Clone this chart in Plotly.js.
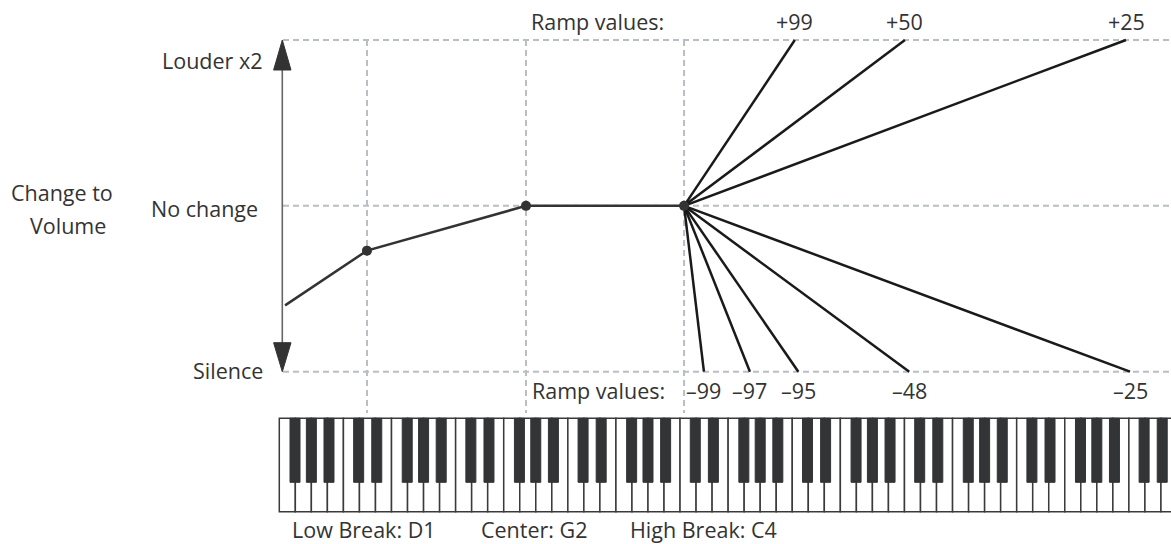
<!DOCTYPE html>
<html><head><meta charset="utf-8">
<script src="https://cdn.plot.ly/plotly-3.0.1.min.js"></script>
<style>html,body{margin:0;padding:0;background:#fff;}#chart{width:1171px;height:544px;}</style>
</head><body><div id="chart"></div>
<script>
// ---------- data (x in white-key units from the keyboard's left edge, y: 0 = silence, 1 = no change, 2 = louder x2)
const levelLabels = ['Silence', 'No change', 'Louder x2'];
const levelValues = [0, 1, 2];
const breakLabels = ['Low Break: D1', 'Center: G2', 'High Break: C4'];
const breakKeys = [5.47, 15.39, 25.25];
const breakLevels = [0.73, 1, 1];
const curveStartKey = [0.36];
const curveStartLevel = [0.40];
const rampUpValues = ['+99', '+50', '+25'];
const rampUpEndKeys = [32.16, 39.03, 52.82];
const rampDownValues = ['\u201399', '\u201397', '\u201395', '\u201348', '\u201325'];
const rampDownEndKeys = [26.49, 29.36, 32.38, 39.30, 53.07];
const whiteNotes = ['F', 'G', 'A', 'B', 'C', 'D', 'E'];
const blackAfter = {F: -0.02, G: 0.0, A: 0.1, C: -0.05, D: 0.08};
const whiteKeyCount = 57;

// ---------- layout geometry
const W = 1171, H = 544;
const keyLeftPx = 279.3, keyWPx = 16.03;
const yZeroPx = 371.7, yUnitPx = 165.85;
const X = px => (px - keyLeftPx) / keyWPx;
const Y = px => (yZeroPx - px) / yUnitPx;
const PX = px => px / W, PY = py => 1 - py / H;

const txtFont = {family: 'Open Sans, sans-serif', size: 21.5, color: '#333333'};
const gridLine = {color: '#b9bdc4', width: 2, dash: '6px,4px'};

const shapes = [];
// horizontal guides
levelValues.forEach(v => shapes.push({type: 'line', layer: 'below', xref: 'x', yref: 'y',
  x0: X(283), x1: X(W + 5), y0: v, y1: v, line: gridLine}));
// vertical guides
breakKeys.forEach(k => shapes.push({type: 'line', layer: 'below', xref: 'x', yref: 'y',
  x0: k, x1: k, y0: 2, y1: Y(413), line: gridLine}));
// volume arrow
const ax = X(282.3), ahw = 8.7 / keyWPx;
shapes.push({type: 'line', xref: 'x', yref: 'y', x0: ax, x1: ax, y0: Y(60), y1: Y(355),
  line: {color: '#666666', width: 1.6}});
shapes.push({type: 'path', xref: 'x', yref: 'y', fillcolor: '#333333', line: {color: '#333333', width: 1},
  path: `M ${ax} ${Y(40)} L ${ax - ahw} ${Y(70)} L ${ax + ahw} ${Y(70)} Z`});
shapes.push({type: 'path', xref: 'x', yref: 'y', fillcolor: '#333333', line: {color: '#333333', width: 1},
  path: `M ${ax} ${Y(371.7)} L ${ax - ahw} ${Y(342.7)} L ${ax + ahw} ${Y(342.7)} Z`});
// keyboard
const kbTop = Y(418.3), kbBot = Y(511.7), blackBot = Y(482.3), blackW = 10 / keyWPx;
for (let k = 0; k < whiteKeyCount; k++) {
  shapes.push({type: 'rect', xref: 'x', yref: 'y', x0: k, x1: k + 1, y0: kbBot, y1: kbTop,
    fillcolor: '#ffffff', line: {color: '#3a3a3a', width: 1.5}});
}
for (let k = 0; k < whiteKeyCount; k++) {
  const n = whiteNotes[k % 7];
  if (n in blackAfter) {
    const c = k + 1 + blackAfter[n];
    shapes.push({type: 'rect', xref: 'x', yref: 'y', x0: c - blackW / 2, x1: c + blackW / 2,
      y0: blackBot, y1: kbTop, fillcolor: '#333436', line: {color: '#333436', width: 1}});
  }
}

// ---------- traces
const hubK = breakKeys[2], hubL = breakLevels[2];
const rx = [], ry = [];
rampUpEndKeys.forEach(e => { rx.push(hubK, e, null); ry.push(hubL, 2, null); });
rampDownEndKeys.forEach(e => { rx.push(hubK, e, null); ry.push(hubL, 0, null); });
const traces = [
  {x: rx, y: ry, mode: 'lines', line: {color: '#1a1a1a', width: 2.5}, hoverinfo: 'skip'},
  {x: curveStartKey.concat(breakKeys), y: curveStartLevel.concat(breakLevels), mode: 'lines',
    line: {color: '#333333', width: 2.5}, hoverinfo: 'skip'},
  {x: breakKeys, y: breakLevels, mode: 'markers', marker: {color: '#333333', size: 10}, hoverinfo: 'skip'}
];

// ---------- annotations
const ann = [];
const A = (text, xpx, ypx, xanchor) => ann.push({text, xref: 'paper', yref: 'paper', x: PX(xpx), y: PY(ypx),
  xanchor: xanchor || 'center', yanchor: 'middle', showarrow: false, font: txtFont});
A('Change to', 61.5, 193);
A('Volume', 68, 225);
const levelY = [370, 208, 60.5], levelRight = [265, 260, 265];
levelLabels.forEach((t, i) => A(t, levelRight[i], levelY[i], 'right'));
A('Ramp values:', 665.5, 21.5, 'right');
A('Ramp values:', 667, 390, 'right');
rampUpValues.forEach((t, i) => ann.push({text: t, xref: 'x', yref: 'paper', x: rampUpEndKeys[i], y: PY(21.5),
  xanchor: 'center', yanchor: 'middle', showarrow: false, font: txtFont}));
rampDownValues.forEach((t, i) => ann.push({text: t, xref: 'x', yref: 'paper', x: rampDownEndKeys[i], y: PY(390),
  xanchor: 'center', yanchor: 'middle', showarrow: false, font: txtFont}));
const breakLabelX = [364, 534, 704];
breakLabels.forEach((t, i) => A(t, breakLabelX[i], 529));

const layout = {
  width: W, height: H, autosize: false,
  margin: {l: 0, r: 0, t: 0, b: 0, pad: 0},
  paper_bgcolor: '#ffffff', plot_bgcolor: '#ffffff',
  showlegend: false,
  xaxis: {range: [X(0), X(W)], visible: false, fixedrange: true},
  yaxis: {range: [Y(H), Y(0)], visible: false, fixedrange: true},
  shapes, annotations: ann
};
Plotly.newPlot('chart', traces, layout, {staticPlot: true, displayModeBar: false});
</script>
</body></html>
